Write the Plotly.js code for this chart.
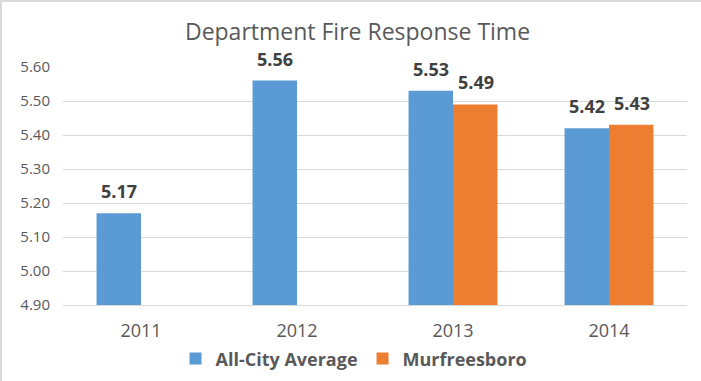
<!DOCTYPE html>
<html>
<head>
<meta charset="utf-8">
<script src="https://cdn.plot.ly/plotly-3.0.1.min.js"></script>
<style>
html,body{margin:0;padding:0;background:#fff;}
#wrap{position:relative;width:701px;height:381px;}
#chart{width:701px;height:381px;}
.bt{position:absolute;left:0;top:0;width:701px;height:2px;background:#d9d9d9;}
.bl{position:absolute;left:0;top:0;width:2px;height:381px;background:#d9d9d9;}
</style>
</head>
<body>
<div id="wrap"><div id="chart"></div><div class="bt"></div><div class="bl"></div></div>
<script>
const years = ['2011', '2012', '2013', '2014'];
const allCity = [5.17, 5.56, 5.53, 5.42];
const murfreesboro = [null, null, 5.49, 5.43];
const seriesNames = ['All-City Average', 'Murfreesboro'];
const yTicks = [4.90, 5.00, 5.10, 5.20, 5.30, 5.40, 5.50, 5.60];

const blue = '#5B9BD5', orange = '#ED7D31';
const font = 'Open Sans, Liberation Sans, sans-serif';

const traces = [
  {type:'bar', x:years, y:allCity, name:seriesNames[0], marker:{color:blue}, hoverinfo:'skip'},
  {type:'bar', x:years, y:murfreesboro, name:seriesNames[1], marker:{color:orange}, hoverinfo:'skip'}
];

const annotations = [];
[[allCity, -1], [murfreesboro, 1]].forEach(([vals, side]) => {
  vals.forEach((v, i) => {
    if (v === null) return;
    annotations.push({
      x: i, y: v, xref:'x', yref:'y', text: v.toFixed(2), showarrow:false,
      xshift: side * 22.5, yanchor:'bottom', yshift: 8,
      font:{family:font, size:18, color:'#404040', weight:'bold'}
    });
  });
});

const layout = {
  width:701, height:381,
  margin:{l:63, r:14, t:67, b:76},
  paper_bgcolor:'#fff', plot_bgcolor:'#fff',
  title:{text:'Department Fire Response Time', x:0.51, xref:'container', xanchor:'center', y:1, yref:'container', yanchor:'top', pad:{t:24}, font:{family:font, size:23, color:'#595959'}},
  barmode:'group', bargap:0.43, bargroupgap:0,
  xaxis:{type:'category', range:[-0.5, 3.5], tickfont:{family:font, size:18, color:'#595959'}, ticklabelstandoff:9, showline:true, linecolor:'#d9d9d9', linewidth:1, ticks:'', showgrid:false, automargin:false},
  yaxis:{range:[4.9, 5.6], tickvals:yTicks, ticktext:yTicks.map(v=>v.toFixed(2)), showgrid:true, gridcolor:'#d9d9d9', zeroline:false, showline:false, ticks:'', ticklabelstandoff:12, tickfont:{family:font, size:15, color:'#595959'}, automargin:false},
  showlegend:true,
  legend:{orientation:'h', x:0.505, xref:'container', xanchor:'center', y:0.058, yref:'container', yanchor:'middle', font:{family:font, size:18, color:'#595959', weight:'bold'}, traceorder:'normal'},
  annotations: annotations
};

Plotly.newPlot('chart', traces, layout, {displayModeBar:false, staticPlot:true});
</script>
</body>
</html>
